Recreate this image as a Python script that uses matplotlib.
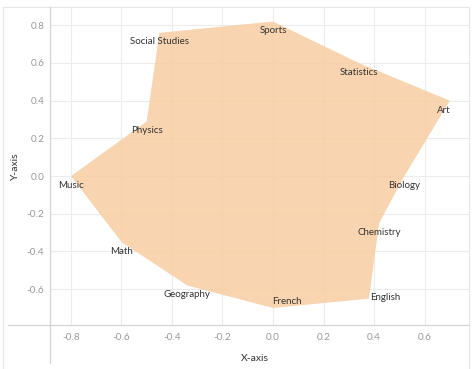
import matplotlib.pyplot as plt
from matplotlib.patches import Polygon, Rectangle
from matplotlib.lines import Line2D

plt.rcParams['font.family'] = ['Lato', 'DejaVu Sans']

subjects = ["Art", "Biology", "Chemistry", "English", "French", "Geography",
            "Math", "Music", "Physics", "Social Studies", "Sports", "Statistics"]
x_vals = [0.70, 0.52, 0.42, 0.38, 0.00, -0.34, -0.60, -0.80, -0.50, -0.45, 0.00, 0.34]
y_vals = [0.40, 0.00, -0.25, -0.65, -0.70, -0.58, -0.35, 0.00, 0.29, 0.76, 0.82, 0.60]
x_ticks = [-0.8, -0.6, -0.4, -0.2, 0.0, 0.2, 0.4, 0.6]
y_ticks = [-0.6, -0.4, -0.2, 0.0, 0.2, 0.4, 0.6, 0.8]

fig = plt.figure(figsize=(4.74, 3.69), dpi=100)
ax = fig.add_axes([50/474, 1-325/369, 419/474, 318/369])

# filled shape through all subjects in order (grid shows faintly through)
poly = Polygon(list(zip(x_vals, y_vals)), closed=True, facecolor="#f8cda2",
               alpha=0.85, edgecolor="none", zorder=1)
ax.add_patch(poly)

# labels: slightly below each vertex, a few nudged
offsets = {"French": (10, 5), "English": (12, 1), "Art": (-4, -7)}
for name, x, y in zip(subjects, x_vals, y_vals):
    dx, dy = offsets.get(name, (0, -6.5))
    ax.annotate(name, (x, y), xytext=(dx, dy), textcoords="offset points",
                ha="center", va="center", fontsize=7, color="#333333", zorder=3)

ax.set_xlim(-0.883, 0.776)
ax.set_ylim(-0.790, 0.897)
ax.set_xticks(x_ticks)
ax.set_yticks(y_ticks)
ax.set_xticklabels([f"{t:.1f}" for t in x_ticks])
ax.set_yticklabels([f"{t:.1f}" for t in y_ticks])
ax.tick_params(length=0, labelsize=7.2, labelcolor="#999999")
ax.tick_params(axis="x", pad=6)
ax.tick_params(axis="y", pad=4)
ax.set_axisbelow(True)
ax.grid(True, color="#ececec", linewidth=0.8)
for s in ax.spines.values():
    s.set_visible(False)

ax.set_xlabel("X-axis", fontsize=7.5, color="#333333")
ax.set_ylabel("Y-axis", fontsize=7.5, color="#333333")
ax.xaxis.set_label_coords(0.49, -0.09)
ax.yaxis.set_label_coords(-30/419, 0.5)

# outer frame and crossing axis lines
fig.add_artist(Rectangle((3/474, -0.05), 466/474, 1.05 - 7/369, transform=fig.transFigure,
                         fill=False, edgecolor="#e6e6e6", linewidth=0.8))
fig.add_artist(Line2D([8/474, 469/474], [1-325/369, 1-325/369], transform=fig.transFigure,
                      color="#d4d4d4", linewidth=0.9))
fig.add_artist(Line2D([50/474, 50/474], [1-7/369, 1-363/369], transform=fig.transFigure,
                      color="#d4d4d4", linewidth=0.9))

fig.savefig("out.png", dpi=100)
